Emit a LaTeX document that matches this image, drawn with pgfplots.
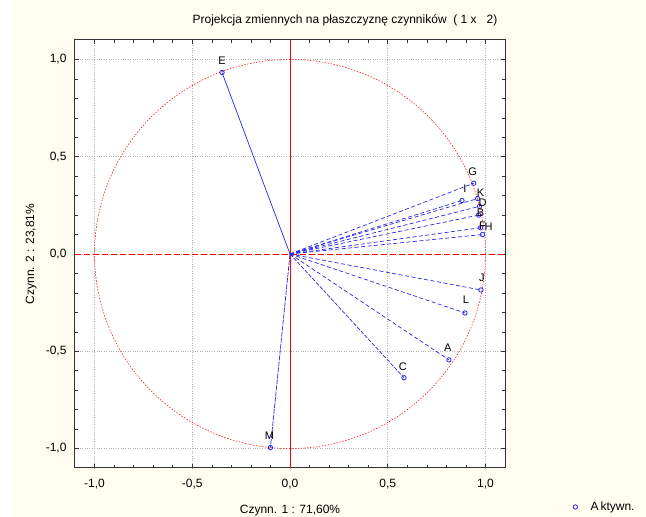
\documentclass[border=0pt]{standalone}
\usepackage{pgfplots}
\pgfplotsset{compat=1.18}
\usepackage{fontspec}
\setmainfont{Liberation Sans}
\definecolor{cream}{RGB}{255,252,240}
\definecolor{lblue}{RGB}{40,40,235}
\pgfplotstableread{
x y lab dx dy
-0.348 0.933 E 0 12
-0.100 -0.995 M -1 12
0.583 -0.636 C -1 11
0.813 -0.544 A -1 12
0.895 -0.303 L 1 13
0.977 -0.185 J 1 12
0.940 0.364 G -1 11
0.880 0.275 I 3 12
0.960 0.285 K 3 6
0.970 0.245 D 3 4
0.965 0.200 B 2 2
0.975 0.135 F 2 2
0.985 0.100 H 6 8
}\pts
\newcommand\fs{\fontsize{11}{13}\selectfont}
\newcommand\fl{\fontsize{12}{14}\selectfont}
\begin{document}
\begin{tikzpicture}
\fill[white] (0pt,0pt) rectangle (646pt,517pt);
\fill[cream] (12pt,0pt) rectangle (646pt,517pt);
\useasboundingbox (0pt,0pt) rectangle (646pt,517pt);
\node[font=\fl, anchor=center] at (345pt,497pt) {Projekcja zmiennych na płaszczyznę czynników \ ( 1 x \ \ 2)};
\begin{axis}[
  at={(75pt,49pt)}, anchor=south west,
  scale only axis, width=430pt, height=428pt,
  xmin=-1.1, xmax=1.1, ymin=-1.1, ymax=1.1,
  xtick={-1,-0.5,0,0.5,1}, ytick={-1,-0.5,0,0.5,1},
  minor tick num=4,
  tick align=inside,
  major tick length=4pt, minor tick length=3pt,
  every tick/.style={black!80, line width=0.5pt},
  axis line style={black!80, line width=1pt},
  axis background/.style={fill=white},
  grid=major,
  major grid style={black!30, dotted, line width=0.6pt},
  /pgf/number format/.cd, fixed, fixed zerofill, precision=1, use comma, assume math mode=true,
  /pgfplots/.cd,
  ticklabel style={font=\fl},
  xticklabel style={yshift=-8pt},
  yticklabel style={xshift=-5pt},
  label style={font=\fl},
  xlabel={Czynn. 1 : 71,60\%},
  ylabel={Czynn. 2 : 23,81\%},
  xlabel style={at={(axis description cs:0.5,-0.1)}, anchor=center},
  ylabel style={at={(axis description cs:-0.102,0.5)}, anchor=center},
  legend style={at={(axis description cs:1.158,-0.091)}, anchor=west, draw=none, fill=none, font=\fl, inner sep=0pt},
  legend cell align=left,
  clip=false,
]
% reference lines
\addplot[red, line width=0.6pt, forget plot] coordinates {(0,-1.1) (0,1.1)};
\addplot[red, line width=0.7pt, dash pattern=on 6pt off 3pt, forget plot] coordinates {(-1.1,0) (1.1,0)};
\draw[red, line width=0.5pt, dash pattern=on 1.5pt off 1.5pt] (axis cs:0,0) circle [radius=1];
% vectors
\addplot[lblue, line width=0.7pt, forget plot] coordinates {(0,0) (-0.348,0.933)};
\addplot[lblue, line width=0.7pt, dash pattern=on 5pt off 1pt, forget plot] coordinates {(0,0) (-0.100,-0.995)};
\addplot[lblue, line width=0.7pt, dash pattern=on 4pt off 1.5pt, forget plot] coordinates {(0,0) (0.583,-0.636)};
\addplot[lblue, line width=0.7pt, dash pattern=on 4pt off 2.5pt, forget plot] coordinates {(0,0) (0.813,-0.544)};
\addplot[lblue, line width=0.7pt, dash pattern=on 4pt off 2.5pt, forget plot] coordinates {(0,0) (0.895,-0.303)};
\addplot[lblue, line width=0.7pt, dash pattern=on 4pt off 2.5pt, forget plot] coordinates {(0,0) (0.977,-0.185)};
\addplot[lblue, line width=0.7pt, dash pattern=on 4pt off 2.5pt, forget plot] coordinates {(0,0) (0.940,0.364)};
\addplot[lblue, line width=0.7pt, dash pattern=on 4pt off 2.5pt, forget plot] coordinates {(0,0) (0.880,0.275)};
\addplot[lblue, line width=0.7pt, dash pattern=on 4pt off 2.5pt, forget plot] coordinates {(0,0) (0.960,0.285)};
\addplot[lblue, line width=0.7pt, dash pattern=on 4pt off 2.5pt, forget plot] coordinates {(0,0) (0.970,0.245)};
\addplot[lblue, line width=0.7pt, dash pattern=on 4pt off 2.5pt, forget plot] coordinates {(0,0) (0.965,0.200)};
\addplot[lblue, line width=0.7pt, dash pattern=on 4pt off 2.5pt, forget plot] coordinates {(0,0) (0.975,0.135)};
\addplot[lblue, line width=0.7pt, dash pattern=on 4pt off 2.5pt, forget plot] coordinates {(0,0) (0.985,0.100)};
% markers with labels
\addplot[only marks, mark=o, mark size=2.2pt, lblue, mark options={line width=0.8pt},
  visualization depends on={\thisrow{dx}\as\dx},
  visualization depends on={\thisrow{dy}\as\dy},
  nodes near coords, point meta=explicit symbolic,
  nodes near coords style={anchor=center, xshift=\dx pt, yshift=\dy pt, text=black, font=\fs, inner sep=0pt}]
  table[x=x, y=y, meta=lab] {\pts};
\addlegendentry{\hspace{11pt}A\,ktywn.}
\end{axis}
\end{tikzpicture}
\end{document}
